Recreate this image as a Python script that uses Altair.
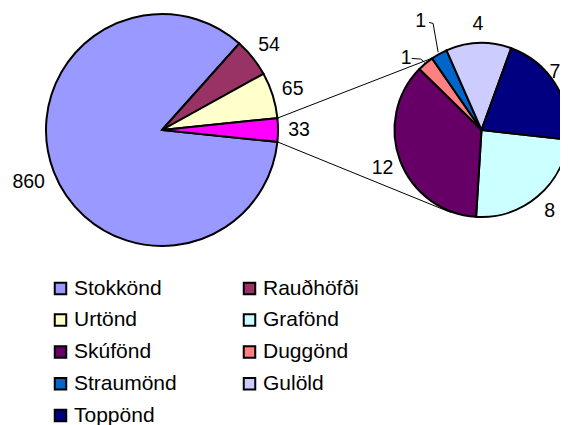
import math
import altair as alt
import pandas as pd

# ---- data ----
main_names = ["Stokkönd", "Rauðhöfði", "Urtönd", "Aðrar endur"]
main_values = [860, 54, 65, 33]
sub_names = ["Grafönd", "Skúfönd", "Duggönd", "Straumönd", "Gulöld", "Toppönd"]
sub_values = [8, 12, 1, 1, 4, 7]
legend_names = ["Stokkönd", "Rauðhöfði", "Urtönd", "Grafönd", "Skúfönd",
                "Duggönd", "Straumönd", "Gulöld", "Toppönd"]
legend_colors = ["#9999FF", "#993366", "#FFFFCC", "#CCFFFF", "#660066",
                 "#FF8080", "#0066CC", "#CCCCFF", "#000080"]
other_name = "Aðrar endur"
other_color = "#FF00FF"

# ---- layout ----
W, H = 552, 417
MC = (154.0, 122.0)
MR = 116
SC = (473.5, 122.0)
SR = 87
FONT = "Liberation Sans"
TAU = 2 * math.pi

main_start = math.pi / 2 + math.pi * main_values[-1] / sum(main_values)
sub_start = math.radians(96.3)

main_df = pd.DataFrame({"name": main_names, "value": main_values,
                        "idx": list(range(len(main_names)))})
sub_df = pd.DataFrame({"name": sub_names, "value": sub_values,
                       "idx": list(range(len(sub_names)))})

# legend laid out column by column: reorder so rows read as in the reference
ncol = 2
nrow = math.ceil(len(legend_names) / ncol)
legend_order = [legend_names[r * ncol + c] for c in range(ncol) for r in range(nrow)
                if r * ncol + c < len(legend_names)]

color_scale = alt.Scale(domain=legend_names + [other_name],
                        range=legend_colors + [other_color])
legend = alt.Legend(title=None, orient="none", legendX=42, legendY=269.8,
                    columns=ncol, values=legend_order, symbolType="square",
                    symbolSize=132, symbolStrokeColor="black",
                    symbolStrokeWidth=2, symbolOpacity=1,
                    labelFont=FONT, labelFontSize=21, labelColor="black",
                    labelOffset=3, rowPadding=9.8, columnPadding=62,
                    padding=0, labelLimit=300)


def polar(c, r, th):
    return (c[0] + r * math.sin(th), c[1] - r * math.cos(th))


def mid_angle(values, i, start):
    tot = sum(values)
    cum = sum(values[:i]) + values[i] / 2
    return start + TAU * cum / tot


# ---- connector and leader lines (derived from slice geometry) ----
other_top = main_start - TAU * main_values[-1] / sum(main_values)
rows = []
for seg, pts in [
    ("c1", [polar(MC, MR, other_top), polar(SC, SR, math.radians(326))]),
    ("c2", [polar(MC, MR, main_start), polar(SC, SR + 1, math.radians(200.5))]),
]:
    for k, (x, y) in enumerate(pts):
        rows.append({"seg": seg, "ord": k, "x": x, "y": y})

i_str = sub_names.index("Straumönd")
a_str = mid_angle(sub_values, i_str, sub_start)
L = polar(SC, 125, a_str)
pts = [(L[0] + 8.5, L[1] + 1.6), (L[0] + 12.5, L[1] + 2.6), polar(SC, 89, a_str)]
for k, (x, y) in enumerate(pts):
    rows.append({"seg": "l1", "ord": k, "x": x, "y": y})

i_dug = sub_names.index("Duggönd")
a_dug = mid_angle(sub_values, i_dug, sub_start)
L = polar(SC, 104, a_dug)
L = (L[0] - 8.5, L[1] + 8)
pts = [(L[0] + 5.7, L[1]), (L[0] + 14.7, L[1] + 0.7), polar(SC, 88.5, a_dug)]
for k, (x, y) in enumerate(pts):
    rows.append({"seg": "l2", "ord": k, "x": x, "y": y})
lines_df = pd.DataFrame(rows)

lines = alt.Chart(lines_df).mark_line(color="black", strokeWidth=1).encode(
    x=alt.X("x:Q", scale=alt.Scale(domain=[0, W], range=[0, W], nice=False, zero=False), axis=None),
    y=alt.Y("y:Q", scale=alt.Scale(domain=[0, H], range=[0, H], nice=False, zero=False), axis=None),
    detail="seg:N",
    order="ord:Q",
)

# ---- main pie ----
main_theta = alt.Theta("value:Q", stack=True,
                       scale=alt.Scale(range=[main_start, main_start + TAU]))
main_arc = alt.Chart(main_df).mark_arc(
    outerRadius=MR, x=MC[0], y=MC[1], stroke="black", strokeWidth=2
).encode(
    theta=main_theta,
    color=alt.Color("name:N", scale=color_scale, legend=legend),
    order=alt.Order("idx:Q"),
)


def main_text(expr, radius):
    return alt.Chart(main_df).transform_calculate(lab=expr).mark_text(
        x=MC[0], y=MC[1], radius=radius, font=FONT, fontSize=19.5,
        color="black", align="center", baseline="middle"
    ).encode(
        theta=main_theta,
        detail="name:N",
        order=alt.Order("idx:Q"),
        text="lab:N",
    )


# longer labels sit a little further out so their box stays clear of the rim
m_short = main_text("datum.value < 100 ? '' + datum.value : ''", 137)
m_long = main_text("datum.value >= 100 ? '' + datum.value : ''", 143)
main_layer = alt.layer(main_arc, m_short, m_long)

# ---- secondary pie ----
sub_theta = alt.Theta("value:Q", stack=True,
                      scale=alt.Scale(range=[sub_start, sub_start + TAU]))
sub_arc = alt.Chart(sub_df).mark_arc(
    outerRadius=SR, x=SC[0], y=SC[1], stroke="black", strokeWidth=2
).encode(
    theta=sub_theta,
    color=alt.Color("name:N", scale=color_scale, legend=legend),
    order=alt.Order("idx:Q"),
)


def sub_text(expr, radius, dx=0, dy=0):
    return alt.Chart(sub_df).transform_calculate(lab=expr).mark_text(
        x=SC[0], y=SC[1], radius=radius, font=FONT, fontSize=19.5,
        color="black", align="center", baseline="middle", dx=dx, dy=dy
    ).encode(
        theta=sub_theta,
        detail="name:N",
        order=alt.Order("idx:Q"),
        text="lab:N",
    )


special = ["Duggönd", "Straumönd", "Toppönd"]
cond = " || ".join(f"datum.name == '{n}'" for n in special)
t_norm = sub_text(f"({cond}) ? '' : '' + datum.value", 106)
t_str = sub_text("datum.name == 'Straumönd' ? '' + datum.value : ''", 125)
t_dug = sub_text("datum.name == 'Duggönd' ? '' + datum.value : ''", 104, dx=-8.5, dy=8)
# right-hand label nudged inward so it stays inside the page edge
t_top = sub_text("datum.name == 'Toppönd' ? '' + datum.value : ''", 104, dx=-15, dy=-3)
sub_layer = alt.layer(sub_arc, t_norm, t_str, t_dug, t_top)

chart = alt.layer(lines, main_layer, sub_layer).resolve_scale(
    theta="independent"
).properties(
    width=W, height=H, padding=0,
    autosize=alt.AutoSizeParams(type="none"),
    background="white",
).configure_view(stroke=None)

chart.save("out.html", embed_options={"renderer": "svg", "actions": False})
